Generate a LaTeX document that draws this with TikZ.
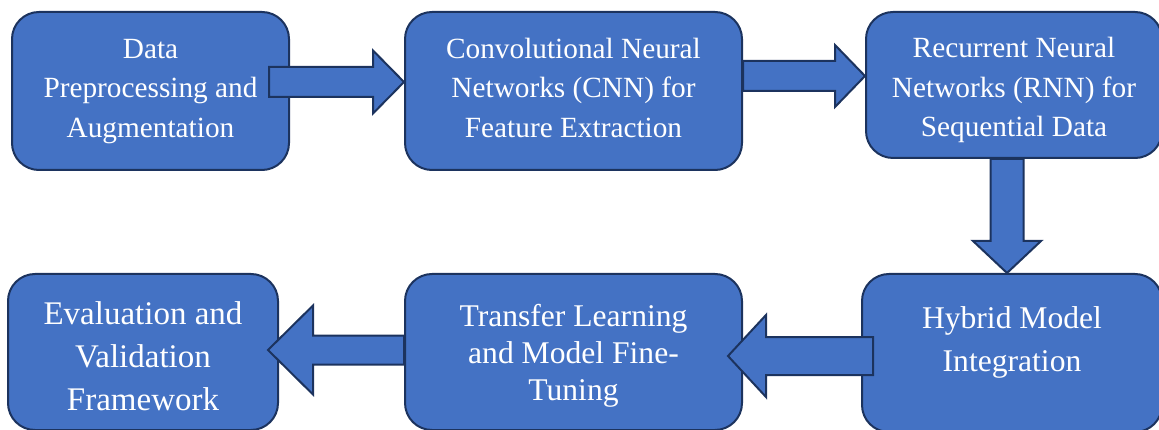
\documentclass[tikz,border=0pt]{standalone}
\usepackage{fontspec}
\setmainfont{Liberation Serif}
\usetikzlibrary{positioning,calc}
\definecolor{boxblue}{HTML}{4472C4}
\definecolor{boxline}{HTML}{1C335E}

\begin{document}
\begin{tikzpicture}[x=1pt, y=1pt,
	stage/.style = {draw=boxline, line width=2pt, fill=boxblue, rounded corners=27pt, text=white, align=center, inner sep=0pt,
		execute at begin node=\strut, execute at end node=\strut},
	toprow/.style = {font=\fontsize{29.3}{39.5}\selectfont},
	botrow/.style = {font=\fontsize{31.6}{43}\selectfont},
	flow/.style n args = {3}{draw=boxline, line width=2pt, fill=boxblue,
		to path={($(\tikztotarget)!#3!(\tikztostart)$) coordinate (bh)
			($(\tikztostart)!#1!90:(\tikztotarget)$) -- ($(bh)!#1!90:(\tikztotarget)$)
			-- ($(bh)!#2!90:(\tikztotarget)$) -- (\tikztotarget)
			-- ($(bh)!#2!-90:(\tikztotarget)$) -- ($(bh)!#1!-90:(\tikztotarget)$)
			-- ($(\tikztostart)!#1!-90:(\tikztotarget)$) -- cycle}}]
	\path[use as bounding box] (0,0) rectangle (1159,-430);
	% top row
	\node[stage, toprow, minimum width=277pt, minimum height=158pt] (prep) at (150.5,-91) {\rule{0pt}{25pt}Data\\Preprocessing and\\Augmentation};
	\node[stage, toprow, minimum width=337pt, minimum height=158pt] (cnn) [right=114pt of prep] {\rule{0pt}{25pt}Convolutional Neural\\Networks (CNN) for\\Feature Extraction};
	\node[stage, toprow, minimum width=296pt, minimum height=146pt] (rnn) [right=122pt of cnn.north east, anchor=north west] {\rule{0pt}{36pt}Recurrent Neural\\Networks (RNN) for\\Sequential Data};
	% bottom row
	\node[stage, botrow, minimum width=300pt, minimum height=158pt] (hyb) [below=114pt of rnn.south east, anchor=north east] {Hybrid Model\\Integration\rule[-27pt]{0pt}{27pt}};
	\node[stage, font=\fontsize{31.6}{37}\selectfont, minimum width=337pt, minimum height=156pt] (tl) [left=118pt of hyb.north west, anchor=north east] {\rule{0pt}{35pt}Transfer Learning\\and Model Fine-\\Tuning};
	\node[stage, font=\fontsize{33}{43}\selectfont, minimum width=270pt, minimum height=156pt] (eval) [left=125pt of tl.north west, anchor=north east] {\rule{0pt}{43pt}Evaluation and\\Validation\\Framework};
	% block arrows
	\draw[flow={15pt}{31.5pt}{31pt}] ([xshift=-21pt,yshift=9pt]prep.east) to ([yshift=9pt]cnn.west);
	\draw[flow={15pt}{31pt}{30pt}] ([yshift=15pt]cnn.east) to ([yshift=9pt]rnn.west);
	\draw[flow={16.5pt}{34pt}{32pt}] ([xshift=-7pt]rnn.south) to ([xshift=-5pt]hyb.north);
	\draw[flow={19pt}{41pt}{38pt}] ([xshift=12pt,yshift=-3pt]hyb.west) to ([xshift=-15pt,yshift=-4pt]tl.east);
	\draw[flow={14.5pt}{44.5pt}{45pt}] ([yshift=2pt]tl.west) to ([xshift=-11pt,yshift=2pt]eval.east);
\end{tikzpicture}
\end{document}
